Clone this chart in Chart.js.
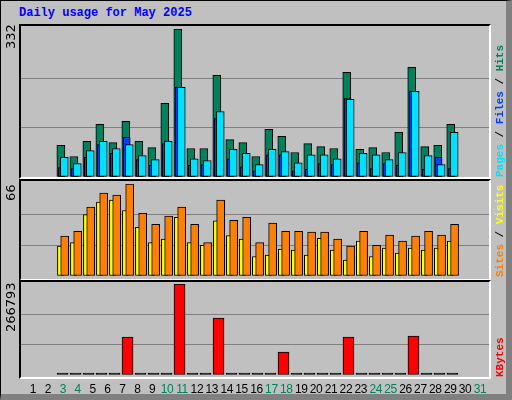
<!DOCTYPE html>
<html><head><meta charset="utf-8">
<script src="https://cdn.jsdelivr.net/npm/chart.js@4"></script>
<style>
body{margin:0;background:#fff}
#w{position:relative;width:512px;height:400px;background:#C0C0C0;overflow:hidden}
#w .b{position:absolute;box-sizing:border-box}
canvas{position:absolute}
.t{position:absolute;white-space:nowrap}
.rot{position:absolute;transform-origin:0 0;transform:rotate(-90deg);white-space:nowrap}
</style></head><body>
<div id="w">
 <div class="b" style="left:0;top:0;width:512px;height:400px;border:1px solid #000;border-right:6px solid #808080;border-bottom:6px solid #808080"></div>
 <div class="t" style="left:19px;top:6px;font:bold 12px 'Liberation Mono',monospace;color:#0000FF">Daily usage for May 2025</div>
</div>
<script>
const days=['1','2','3','4','5','6','7','8','9','10','11','12','13','14','15','16','17','18','19','20','21','22','23','24','25','26','27','28','29','30','31'];
const weekend=[3,4,10,11,17,18,24,25,31];
const hits=[71,46,80,118,77,125,80,66,165,332,64,64,228,84,77,46,107,91,55,75,68,64,235,62,66,55,100,246,68,71,118];
const files=[21,19,44,73,53,89,39,26,75,201,26,28,131,41,23,14,50,50,14,17,30,28,176,32,19,30,26,192,17,44,19];
const pages=[44,30,59,80,64,73,48,39,80,201,41,37,147,62,53,28,62,57,32,50,50,41,174,53,50,39,55,192,48,28,100];
const visits=[21.5,24,44,53,54.5,47,35,24,26.5,42,24,22,39.5,29,26.5,14,15,19.4,18.6,15,27,18.6,11.5,25,14,20,16.5,20,18.6,20,25];
const sites=[28.7,32,49.5,59.5,58,66,45,37,43,49.5,37,24,54.5,40,42,24,38,32,32,31.5,31.5,26.5,21.5,32,22,29.4,25,28.7,32,29.4,37];
const kbytes=[0,0,0,0,0,111400,0,0,0,266793,0,0,167100,0,0,0,0,67400,0,0,0,0,111400,0,0,0,0,114300,0,0,0];
const maxTop=332, maxMid=66, maxKb=266793;

const W=document.getElementById('w');
function add(html){W.insertAdjacentHTML('beforeend',html);}
const SLOT=470/31;
function pts(arr,off){return arr.map((v,i)=>({x:i+off/SLOT,y:v}));}
function mk(top,h,padT,padB,max,datasets){
  const c=document.createElement('canvas');
  c.width=470;c.height=h;
  c.style.left='20px';c.style.top=top+'px';c.style.width='470px';c.style.height=h+'px';
  W.appendChild(c);
  new Chart(c,{type:'bar',data:{datasets},options:{
    responsive:false,animation:false,devicePixelRatio:1,
    layout:{padding:{top:padT,bottom:padB,left:0,right:0}},
    plugins:{legend:{display:false},tooltip:{enabled:false}},
    scales:{
      x:{type:'linear',min:0,max:31,display:false},
      y:{min:0,max:max,border:{display:false},ticks:{display:false},
         afterBuildTicks:s=>{s.ticks=[0,1,2,3].map(k=>({value:max*k/3}));},
         grid:{drawTicks:false,color:c=>(c.index===1||c.index===2)?'#808080':'rgba(0,0,0,0)',lineWidth:1}}
    }}});
}
function ds(data,color,th,order){return {data,backgroundColor:color,borderColor:'#000',borderWidth:1,barThickness:th,grouped:false,order,borderSkipped:false};}
mk(25,152,4,0,maxTop,[
  ds(pts(pages,12.5),'#00E0FF',8,1),
  ds(pts(files,9.5),'#0040FF',7,2),
  ds(pts(hits,8.5),'#00805C',8,3)]);
mk(180,100,4,4,maxMid,[
  ds(pts(sites,13),'#FF8000',8,1),
  ds(pts(visits,8),'#FFFF00',6,2)]);
const kb=ds(pts(kbytes,10.5),kbytes.map(v=>v===0?'#000':'#FF0000'),11,1);
kb.minBarLength=2;
mk(280,98,4,3,maxKb,[kb]);
[[19,24,472,155],[19,179,472,102],[19,280,472,99]].forEach(f=>add(`<div class="b" style="left:${f[0]}px;top:${f[1]}px;width:${f[2]}px;height:${f[3]}px;border:2px solid #000;border-right-color:#fff;border-bottom-color:#fff"></div>`));
const lf="13px 'DejaVu Sans',sans-serif";
add(`<div class="rot" style="left:3px;top:49px;font:${lf};color:#000">${maxTop}</div>`);
add(`<div class="rot" style="left:3px;top:201px;font:${lf};color:#000">${maxMid}</div>`);
add(`<div class="rot" style="left:3px;top:332px;font:${lf};color:#000">${maxKb}</div>`);
const rf="bold 11px 'Liberation Mono',monospace";
add(`<div class="rot" style="left:494px;top:177px;font:${rf}"><span style="color:#00E0FF">Pages</span> / <span style="color:#0040FF">Files</span> / <span style="color:#00805C">Hits</span></div>`);
add(`<div class="rot" style="left:494px;top:277px;font:${rf}"><span style="color:#FF8000">Sites</span> / <span style="color:#FFFF00">Visits</span></div>`);
add(`<div class="rot" style="left:494px;top:377px;font:${rf}"><span style="color:#FF0000">KBytes</span></div>`);
days.forEach((d,i)=>{
  const cx=33+i*(447/30);
  const col=weekend.includes(+d)?'#00805C':'#000';
  add(`<div class="t" style="left:${cx-12}px;width:24px;text-align:center;top:382px;font:12px 'Liberation Sans',sans-serif;letter-spacing:-0.4px;color:${col}">${d}</div>`);
});
</script>
</body></html>
